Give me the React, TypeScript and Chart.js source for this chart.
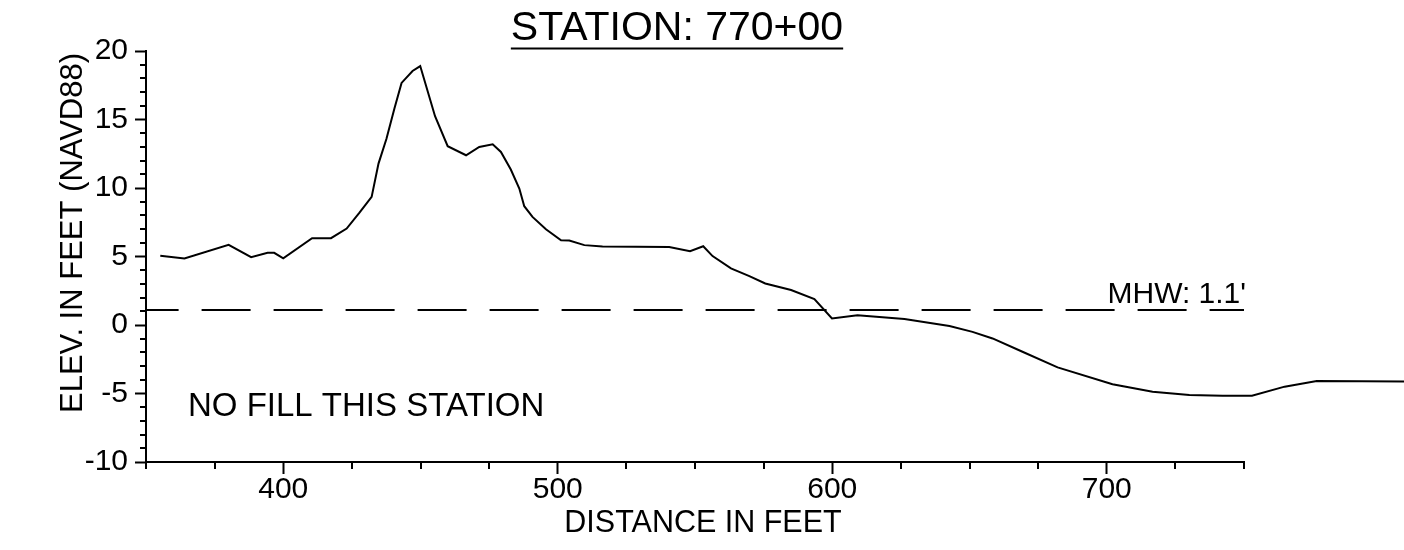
import React, { useEffect, useRef } from 'react';
import { Chart, registerables } from 'chart.js';

Chart.register(...registerables);

// ---- data ----
const PROFILE_X = [
  355.2, 364.0, 380.1, 388.3, 394.3, 396.7, 400.0, 410.5, 417.4, 423.1,
  427.7, 432.2, 434.7, 437.6, 440.5, 443.1, 447.1, 449.9, 455.3, 459.9,
  466.6, 471.4, 476.3, 479.3, 482.9, 486.0, 487.8, 490.8, 495.7, 501.2,
  504.2, 509.7, 516.3, 540.6, 548.2, 553.0, 556.4, 563.1, 569.8, 575.6,
  585.0, 593.5, 599.9, 609.2, 626.3, 642.7, 651.1, 658.4, 669.3, 682.1,
  702.1, 716.7, 730.1, 742.2, 752.9, 764.8, 776.5, 793.0, 812.0,
];
const PROFILE_Y = [
  5.05, 4.86, 5.85, 4.95, 5.27, 5.27, 4.86, 6.34, 6.34, 7.04,
  8.18, 9.35, 11.78, 13.6, 15.8, 17.67, 18.54, 18.9, 15.24, 13.05,
  12.39, 13.0, 13.19, 12.63, 11.35, 9.96, 8.67, 7.89, 6.99, 6.19,
  6.17, 5.83, 5.73, 5.7, 5.39, 5.75, 5.03, 4.13, 3.57, 3.03,
  2.55, 1.89, 0.48, 0.71, 0.43, -0.08, -0.5, -0.98, -1.95, -3.09,
  -4.33, -4.87, -5.11, -5.16, -5.16, -4.5, -4.09, -4.11, -4.12,
];
const MHW = 1.1;
const X_MIN = 350;
const X_MAX = 750;
const X_STEP = 25;
const X_LABEL_STEP = 100;
const Y_MIN = -10;
const Y_MAX = 20;
const Y_STEP = 1;
const Y_LABEL_STEP = 5;

const TITLE = 'STATION: 770+00';
const X_TITLE = 'DISTANCE IN FEET';
const Y_TITLE = 'ELEV. IN FEET (NAVD88)';
const NOTE = 'NO FILL THIS STATION';
const MHW_LABEL = "MHW: 1.1'";

const FONT = "'Liberation Sans', Arial, Helvetica, sans-serif";

const decor = {
  id: 'decor',
  afterDraw(chart: any) {
    const { ctx } = chart;
    const x = chart.scales.x;
    const y = chart.scales.y;
    ctx.save();
    ctx.strokeStyle = '#000';
    ctx.fillStyle = '#000';
    ctx.lineWidth = 2;
    // minor ticks
    x.ticks.forEach((t: any) => {
      if (t.value % X_LABEL_STEP !== 0) {
        const px = Math.round(x.getPixelForValue(t.value));
        ctx.beginPath();
        ctx.moveTo(px, x.top);
        ctx.lineTo(px, x.top + 7);
        ctx.stroke();
      }
    });
    y.ticks.forEach((t: any) => {
      if (t.value % Y_LABEL_STEP !== 0) {
        const py = Math.round(y.getPixelForValue(t.value));
        ctx.beginPath();
        ctx.moveTo(y.right, py);
        ctx.lineTo(y.right - 6, py);
        ctx.stroke();
      }
    });
    // title with underline
    ctx.font = `41px ${FONT}`;
    ctx.textAlign = 'center';
    ctx.textBaseline = 'alphabetic';
    const tx = 677;
    ctx.fillText(TITLE, tx, 40);
    const w = ctx.measureText(TITLE).width;
    ctx.fillRect(tx - w / 2, 47.5, w, 2);
    // x title
    ctx.font = `30.5px ${FONT}`;
    ctx.fillText(X_TITLE, chart.width / 2 + 1, 532);
    // y title
    ctx.save();
    ctx.font = `31px ${FONT}`;
    ctx.translate(82, 233);
    ctx.rotate(-Math.PI / 2);
    ctx.fillText(Y_TITLE, 0, 0);
    ctx.restore();
    // note
    ctx.font = `33px ${FONT}`;
    ctx.textAlign = 'left';
    ctx.fillText(NOTE, 188, 416);
    // MHW label
    ctx.font = `30px ${FONT}`;
    ctx.textAlign = 'right';
    ctx.fillText(MHW_LABEL, x.right + 2, y.getPixelForValue(MHW) - 7);
    ctx.restore();
  },
};

export default function App() {
  const ref = useRef<HTMLCanvasElement>(null);
  useEffect(() => {
    document.body.style.margin = '0';
    const chart = new Chart(ref.current as HTMLCanvasElement, {
      type: 'line',
      data: {
        datasets: [
          {
            label: 'Profile',
            data: PROFILE_X.map((xv, i) => ({ x: xv, y: PROFILE_Y[i] })),
            borderColor: '#000',
            borderWidth: 2,
            pointRadius: 0,
            tension: 0,
            fill: false,
            clip: false,
          } as any,
          {
            label: 'MHW',
            data: [
              { x: X_MIN, y: MHW },
              { x: X_MAX, y: MHW },
            ],
            borderColor: '#000',
            borderWidth: 2,
            borderDash: [49, 23],
            borderDashOffset: 16.4,
            pointRadius: 0,
            fill: false,
          } as any,
        ],
      },
      options: {
        responsive: false,
        animation: false,
        events: [],
        layout: { padding: { top: 51, right: 160, left: 0, bottom: 0 } },
        plugins: {
          legend: { display: false },
          tooltip: { enabled: false },
          title: { display: false },
        },
        scales: {
          x: {
            type: 'linear',
            afterDataLimits: (s: any) => {
              s.min = X_MIN;
              s.max = X_MAX;
            },
            afterFit: (s: any) => {
              s.height = 88;
            },
            ticks: {
              stepSize: X_STEP,
              autoSkip: false,
              maxRotation: 0,
              minRotation: 0,
              padding: -2,
              color: '#000',
              font: { family: FONT, size: 30 },
              callback: (v: any) => (v % X_LABEL_STEP === 0 ? String(v) : ''),
            },
            grid: {
              drawOnChartArea: false,
              tickLength: 12,
              tickWidth: 2,
              tickColor: (c: any) =>
                c.tick && c.tick.value % X_LABEL_STEP === 0 ? '#000' : 'rgba(0,0,0,0)',
            },
            border: { display: true, color: '#000', width: 2 },
          },
          y: {
            type: 'linear',
            min: Y_MIN,
            max: Y_MAX,
            afterFit: (s: any) => {
              s.width = 146;
            },
            ticks: {
              stepSize: Y_STEP,
              autoSkip: false,
              padding: 7,
              color: '#000',
              font: { family: FONT, size: 30 },
              callback: (v: any) => (v % Y_LABEL_STEP === 0 ? String(v) : ''),
            },
            grid: {
              drawOnChartArea: false,
              tickLength: 11,
              tickWidth: 2,
              tickColor: (c: any) =>
                c.tick && c.tick.value % Y_LABEL_STEP === 0 ? '#000' : 'rgba(0,0,0,0)',
            },
            border: { display: true, color: '#000', width: 2 },
          },
        },
      } as any,
      plugins: [decor],
    });
    return () => chart.destroy();
  }, []);
  return <canvas ref={ref} width={1404} height={550} style={{ display: 'block' }} />;
}
